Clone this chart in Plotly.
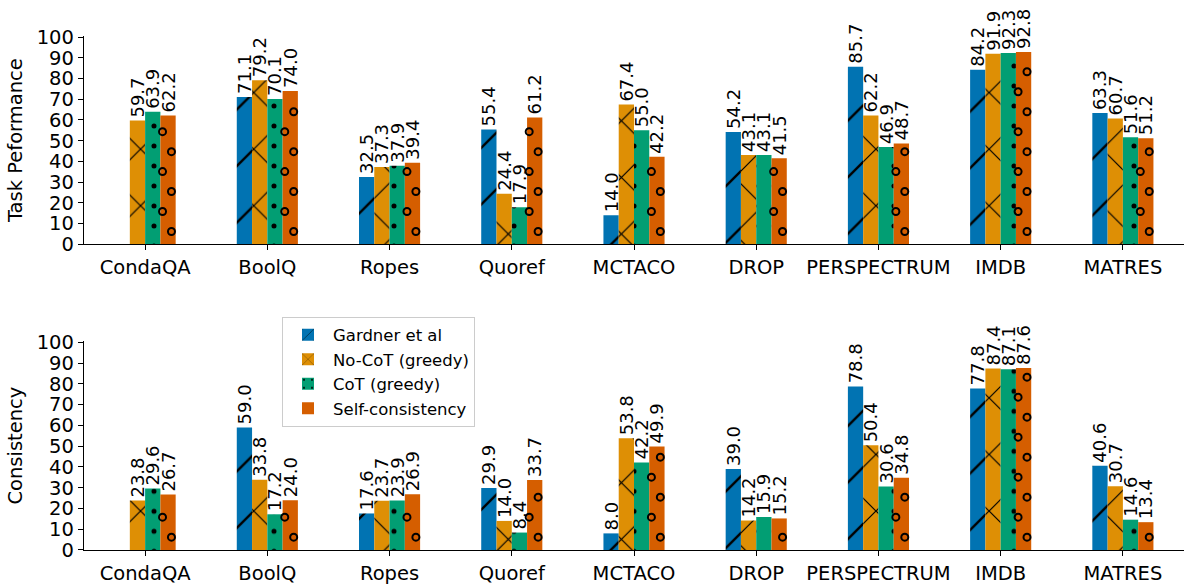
import plotly.graph_objects as go

categories = ["CondaQA", "BoolQ", "Ropes", "Quoref", "MCTACO", "DROP", "PERSPECTRUM", "IMDB", "MATRES"]
series_names = ["Gardner et al", "No-CoT (greedy)", "CoT (greedy)", "Self-consistency"]

perf_gardner = [None, 71.1, 32.5, 55.4, 14.0, 54.2, 85.7, 84.2, 63.3]
perf_nocot = [59.7, 79.2, 37.3, 24.4, 67.4, 43.1, 62.2, 91.9, 60.7]
perf_cot = [63.9, 70.1, 37.9, 17.9, 55.0, 43.1, 46.9, 92.3, 51.6]
perf_sc = [62.2, 74.0, 39.4, 61.2, 42.2, 41.5, 48.7, 92.8, 51.2]

cons_gardner = [None, 59.0, 17.6, 29.9, 8.0, 39.0, 78.8, 77.8, 40.6]
cons_nocot = [23.8, 33.8, 23.7, 14.0, 53.8, 14.2, 50.4, 87.4, 30.7]
cons_cot = [29.6, 17.2, 23.9, 8.4, 42.2, 15.9, 30.6, 87.1, 14.6]
cons_sc = [26.7, 24.0, 26.9, 33.7, 49.9, 15.2, 34.8, 87.6, 13.4]

y_ticks = [0, 10, 20, 30, 40, 50, 60, 70, 80, 90, 100]
y_titles = ["Task Peformance", "Consistency"]

colors = ["#0173b2", "#de8f05", "#029e73", "#d55e00"]
pattern_shapes = ["/", "x", ".", None]
pattern_sizes = [40, 40, 20, None]
pattern_solid = [0.06, 0.06, 0.05, None]

FONT = "DejaVu Sans"
BAR_W = 0.125
x_idx = list(range(len(categories)))

fig = go.Figure()

panels = [
    ([perf_gardner, perf_nocot, perf_cot, perf_sc], "x", "y", True),
    ([cons_gardner, cons_nocot, cons_cot, cons_sc], "x2", "y2", False),
]

for series, xa, ya, show in panels:
    for k, vals in enumerate(series):
        marker = dict(color=colors[k], line=dict(width=0))
        if pattern_shapes[k] is not None:
            marker["pattern"] = dict(shape=pattern_shapes[k], fgcolor="black", bgcolor=colors[k],
                                     fgopacity=1, size=pattern_sizes[k], solidity=pattern_solid[k],
                                     fillmode="replace")
        fig.add_trace(go.Bar(
            x=x_idx, y=vals, name=series_names[k], xaxis=xa, yaxis=ya,
            marker=marker, legendgroup=series_names[k], showlegend=show,
            text=[f"{v:.1f}" if v is not None else "" for v in vals],
            textposition="outside", textangle=-90, cliponaxis=False,
            constraintext="none",
            textfont=dict(family=FONT, size=18, color="black"),
        ))
    # open-circle hatch for self-consistency bars
    sc_vals = series[3]
    cx, cy = [], []
    step = 9.63
    for i, v in enumerate(sc_vals):
        if v is None:
            continue
        r = 0
        y = 6.2
        while y + 1.8 <= v:
            off = 0.028 if r % 2 == 0 else -0.045
            cx.append(i + 1.5 * BAR_W + off)
            cy.append(y)
            r += 1
            y += step
    fig.add_trace(go.Scatter(
        x=cx, y=cy, mode="markers", xaxis=xa, yaxis=ya, showlegend=False,
        hoverinfo="skip", cliponaxis=False,
        marker=dict(symbol="circle-open", size=7, color="black", line=dict(width=2, color="black")),
    ))

axis_common = dict(
    showline=True, linecolor="black", linewidth=1.3, showgrid=False, zeroline=False,
    ticks="outside", ticklen=5, tickwidth=1.3, tickcolor="black",
    tickfont=dict(family=FONT, size=19.5, color="black"),
)

fig.update_layout(
    width=1184, height=586,
    template="none",
    paper_bgcolor="white", plot_bgcolor="white",
    margin=dict(l=84, r=0, t=36, b=36),
    barmode="group", bargap=0.5, bargroupgap=0,
    font=dict(family=FONT, color="black"),
    showlegend=True,
    legend=dict(
        x=0.18, y=0.454, xanchor="left", yanchor="top",
        bgcolor="white", bordercolor="#cccccc", borderwidth=1,
        font=dict(family=FONT, size=16.5, color="black"),
        tracegroupgap=0, itemwidth=40,
    ),
    xaxis=dict(domain=[0, 1], anchor="y", range=[-0.5, 8.5], tickvals=x_idx, ticktext=categories, **axis_common),
    yaxis=dict(domain=[0.5947, 1], anchor="x", range=[0, 100.5], tickvals=y_ticks,
               title=dict(text=y_titles[0], standoff=8, font=dict(family=FONT, size=19.5, color="black")), **axis_common),
    xaxis2=dict(domain=[0, 1], anchor="y2", range=[-0.5, 8.5], tickvals=x_idx, ticktext=categories, **axis_common),
    yaxis2=dict(domain=[0, 0.406], anchor="x2", range=[0, 100.5], tickvals=y_ticks,
                title=dict(text=y_titles[1], standoff=8, font=dict(family=FONT, size=19.5, color="black")), **axis_common),
)

fig.write_html("out.html")
